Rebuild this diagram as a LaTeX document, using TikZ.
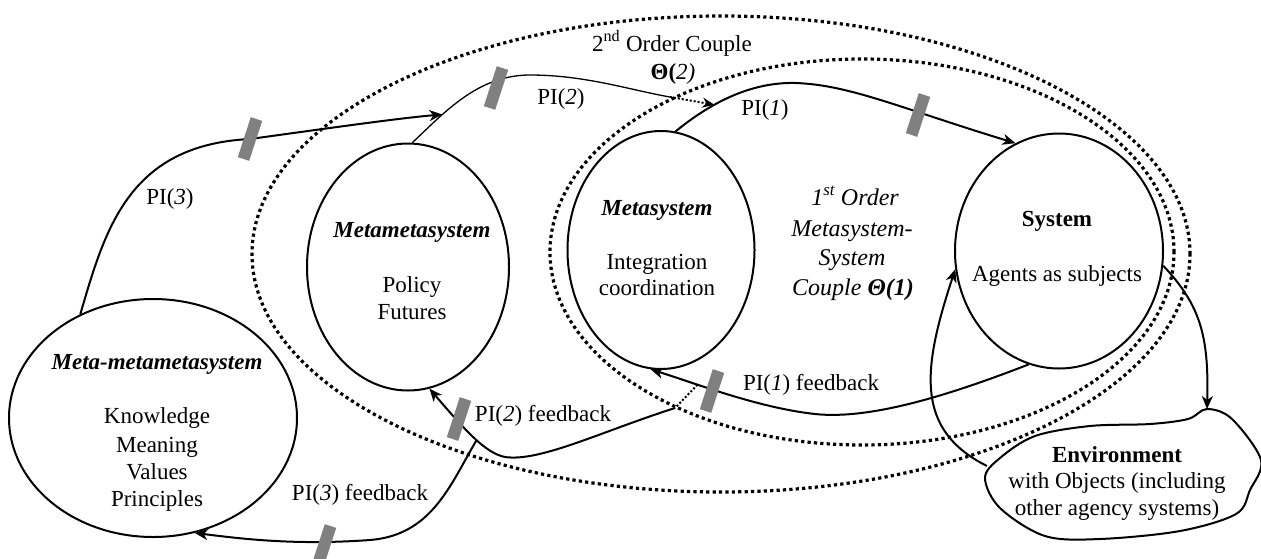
\documentclass[tikz,border=0pt]{standalone}
\usepackage{fontspec}
\setmainfont{Liberation Serif}
\usetikzlibrary{arrows.meta,shapes.geometric}
\definecolor{barcol}{RGB}{128,128,128}
\begin{document}
\begin{tikzpicture}[x=1pt,y=-1pt,
  sysell/.style={draw, ellipse, line width=2pt, inner sep=0pt},
  dotell/.style={draw, ellipse, line width=3.2pt, dash pattern=on 3.2pt off 3.2pt, inner sep=0pt},
  conn/.style={line width=2pt, -{Stealth[length=13pt,width=11pt,inset=4pt]}},
  thinconn/.style={line width=1.3pt},
  dotconn/.style={line width=2pt, dash pattern=on 2pt off 2pt},
  txt/.style={font=\fontsize{23}{28}\selectfont, inner sep=0pt, anchor=base},
  itxt/.style={font=\fontsize{24}{29}\selectfont\itshape, inner sep=0pt, anchor=base},
  gbar/.style={fill=barcol, draw=none, minimum width=12pt, minimum height=42pt, rotate=-18, inner sep=0pt}]
\useasboundingbox (0,0) rectangle (1261,558);

% coupling boundaries
\node[dotell, minimum width=938pt, minimum height=476pt] (outer) at (721,254) {};
\node[dotell, minimum width=624pt, minimum height=386pt] (inner) at (862,252) {};

% systems
\node[sysell, minimum width=288pt, minimum height=238pt] (mmm) at (153,418) {};
\node[sysell, minimum width=202pt, minimum height=247pt] (mm) at (408,267) {};
\node[sysell, minimum width=187pt, minimum height=238pt] (ms) at (661,250) {};
\node[sysell, minimum width=208pt, minimum height=235pt] (sys) at (1059,251) {};

% environment blob
\coordinate (envtop) at (1207,409);
\coordinate (envleft) at (987,466);
\draw[line width=2pt] plot[smooth cycle, tension=0.55] coordinates {
  (1207,409) (1232,419) (1261,460) (1250,490) (1236,514) (1180,531) (1100,539)
  (1045,536) (1000,508) (985,478) (1000,458) (1035,436) (1090,426) (1150,424) (1188,419)};

% texts
\node[txt] (t2nd) at (672,51) {2\textsuperscript{nd} Order Couple};
\node[txt] (th2) at (673,79) {\textbf{Θ(}\textit{2)}};
\node[itxt] (fo1) at (855,205) {1\textsuperscript{st} Order};
\node[itxt] (fo2) at (852,236) {Metasystem-};
\node[itxt] (fo3) at (852,265) {System};
\node[itxt] (fo4) at (853,295) {Couple \textbf{Θ(1)}};

\node[txt] (mmt) at (412,237) {\textbf{\textit{Metametasystem}}};
\node[txt] (mm1) at (412,292) {Policy};
\node[txt] (mm2) at (412,319) {Futures};

\node[txt] (mst) at (657,215) {\textbf{\textit{Metasystem}}};
\node[txt] (ms1) at (657,269) {Integration};
\node[txt] (ms2) at (657,295) {coordination};

\node[txt] (syst) at (1057,226) {\textbf{System}};
\node[txt] (sys1) at (1057,281) {Agents as subjects};

\node[txt] (mmmt) at (157,369) {\textbf{\textit{Meta-metametasystem}}};
\node[txt] (mmm1) at (157,423) {Knowledge};
\node[txt] (mmm2) at (157,452) {Meaning};
\node[txt] (mmm3) at (157,479) {Values};
\node[txt] (mmm4) at (157,506) {Principles};

\node[txt] (envt) at (1117,462) {\textbf{Environment}};
\node[txt] (env1) at (1117,488) {with Objects (including};
\node[txt] (env2) at (1117,515) {other agency systems)};

\node[txt] (lp1) at (765,115) {PI(\textit{1})};
\node[txt] (lp2) at (561,104) {PI(\textit{2})};
\node[txt] (lp3) at (170,204) {PI(\textit{3})};
\node[txt] (lf1) at (811,390) {PI(\textit{1}) feedback};
\node[txt] (lf2) at (543,421) {PI(\textit{2}) feedback};
\node[txt] (lf3) at (360,500) {PI(\textit{3}) feedback};

% PI(1)
\draw[conn] (ms.83) .. controls (720,95) and (760,82) .. (796,83) coordinate[pos=0.3] (p2tip)
  .. controls (850,85) and (900,108) .. (sys.112);
% PI(2)
\draw[thinconn] (mm.88) .. controls (445,112) and (478,75) .. (530,75) coordinate[pos=0.3] (p3tip)
  .. controls (585,75) and (630,90) .. (670,97) coordinate (p2dot);
\draw[dotconn, -{Stealth[length=12pt,width=10pt,inset=4pt]}] (p2dot) -- (p2tip);
% PI(3)
\draw[conn] (mmm.125) .. controls (105,230) and (128,145) .. (250,139)
  .. controls (330,128) and (400,118) .. (p3tip);
% PI(1) feedback
\draw[conn] (sys.255) .. controls (950,395) and (870,420) .. (815,414)
  .. controls (760,408) and (700,385) .. (ms.265) coordinate[pos=0.7] (f2start);
% PI(2) feedback
\coordinate (f2solid) at (675,408);
\draw[dotconn] (f2start) -- (f2solid);
\draw[conn] (f2solid) .. controls (600,432) and (540,462) .. (505,457)
  .. controls (485,453) and (465,430) .. (mm.280) coordinate[pos=0.45] (f3start);
% PI(3) feedback
\draw[conn] (f3start) .. controls (450,485) and (432,535) .. (370,540)
  .. controls (300,545) and (250,540) .. (mmm.290);
% System <-> Environment
\draw[conn] (sys.352) .. controls (1200,305) and (1209,335) .. (envtop);
\draw[conn] (envleft) .. controls (915,430) and (922,370) .. (sys.190);

% grey bars
\node[gbar] (b3) at (250,139) {};
\node[gbar] (b2) at (496,88) {};
\node[gbar] (b1) at (918,115) {};
\node[gbar] (bf1) at (712,391) {};
\node[gbar] (bf2) at (459,419) {};
\node[gbar] (bf3) at (324,546) {};
\end{tikzpicture}
\end{document}
